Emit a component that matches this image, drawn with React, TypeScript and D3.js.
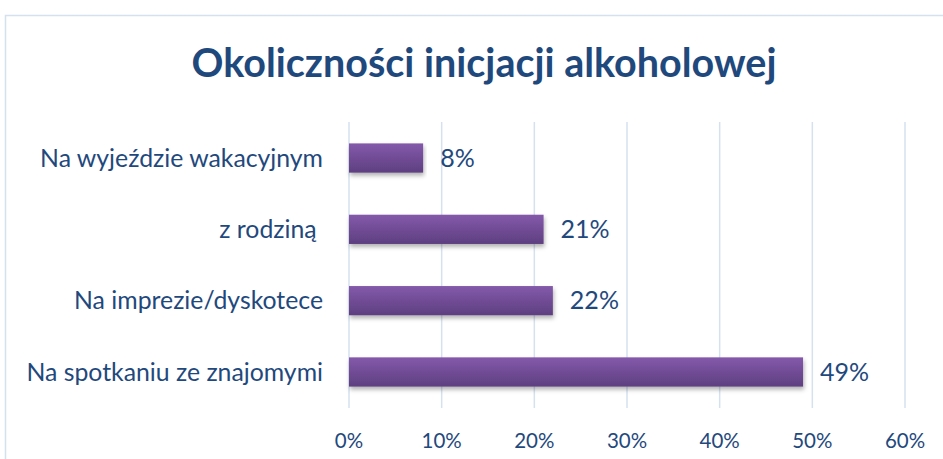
import React from "react";
import * as d3 from "d3";

const categories = ["Na wyjeździe wakacyjnym", "z rodziną ", "Na imprezie/dyskotece", "Na spotkaniu ze znajomymi"];
const values = [8, 21, 22, 49];
const xTicks = [0, 10, 20, 30, 40, 50, 60];
const title = "Okoliczności inicjacji alkoholowej";

const W = 943;
const H = 459;
const FONT = "Lato, 'Open Sans', sans-serif";
const TEXT = "#1F497D";

export default function App() {
  const x = d3.scaleLinear().domain([0, 60]).range([349, 905]);
  const y = d3.scaleBand<string>().domain(categories).range([122, 408]).paddingInner(0.59).paddingOuter(0.3);
  const bh = y.bandwidth();
  return (
    <svg width={W} height={H} style={{ position: "absolute", left: 0, top: 0, background: "#fff" }}>
      <defs>
        <linearGradient id="barGrad" x1="0" y1="0" x2="0" y2="1">
          <stop offset="0%" stopColor="#8459AB" />
          <stop offset="100%" stopColor="#5E3F80" />
        </linearGradient>
        <filter id="shadow" x="-5%" y="-20%" width="110%" height="160%">
          <feDropShadow dx="1" dy="3" stdDeviation="2" floodColor="#000" floodOpacity="0.3" />
        </filter>
      </defs>
      <rect x={5.5} y={15.5} width={W} height={H} fill="#fff" stroke="#D6E1F0" strokeWidth={1.5} />
      <text x={484} y={77} textAnchor="middle" fontFamily={FONT} fontWeight="bold" fontSize={39.5} fill={TEXT}>
        {title}
      </text>
      {xTicks.map((t) => (
        <g key={t}>
          <line x1={x(t)} x2={x(t)} y1={122} y2={408} stroke="#D6E1F0" strokeWidth={1.5} />
          <text x={x(t)} y={448} textAnchor="middle" fontFamily={FONT} fontSize={20.5} fill={TEXT}>
            {t}%
          </text>
        </g>
      ))}
      {categories.map((c, i) => {
        const yc = (y(c) as number) + bh / 2;
        return (
          <g key={c}>
            <text x={323} y={yc} dy="0.35em" textAnchor="end" fontFamily={FONT} fontSize={24.8} fill={TEXT} style={{ whiteSpace: "pre" }}>
              {c}
            </text>
            <rect x={x(0)} y={y(c)} width={x(values[i]) - x(0)} height={bh} fill="url(#barGrad)" filter="url(#shadow)" />
            <text x={x(values[i]) + 17} y={yc} dy="0.35em" fontFamily={FONT} fontSize={25} fill={TEXT}>
              {values[i]}%
            </text>
          </g>
        );
      })}
    </svg>
  );
}
